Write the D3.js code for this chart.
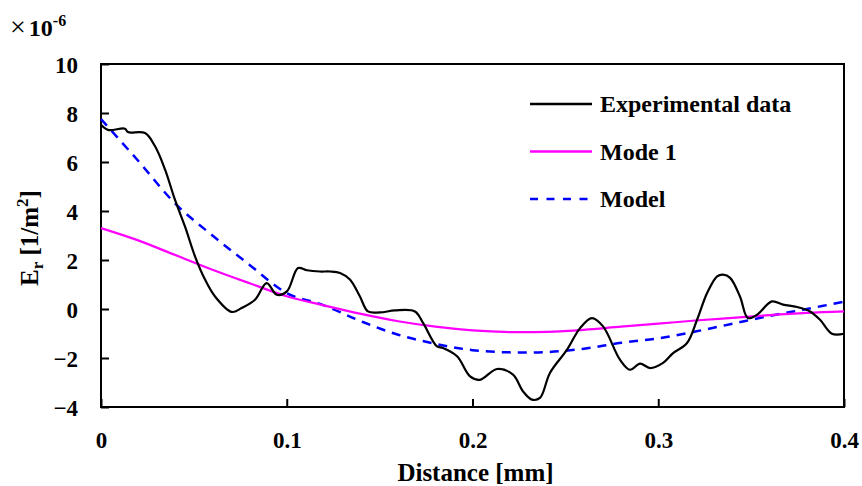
<!DOCTYPE html>
<html>
<head>
<meta charset="utf-8">
<script src="https://cdn.jsdelivr.net/npm/d3@7"></script>
<style>
  body { margin: 0; background: #fff; }
</style>
</head>
<body>
<svg id="chart" width="862" height="486"></svg>
<script>
// distance [mm] and E_r [x1e-6 1/m^2]
var exp_x = [0.000,0.0038,0.0129,0.0145,0.0237,0.0291,0.0345,0.0398,0.0452,0.0506,0.0560,0.0614,0.0704,0.0757,0.0829,0.0892,0.0946,0.1001,0.1061,0.1109,0.1179,0.1233,0.1287,0.1340,0.1394,0.1437,0.1502,0.1583,0.1690,0.1734,0.1809,0.1841,0.1917,0.1987,0.2040,0.2132,0.2218,0.2272,0.2320,0.2363,0.2417,0.2509,0.2579,0.2643,0.2703,0.2794,0.2848,0.2902,0.2956,0.3026,0.3080,0.3155,0.3209,0.3263,0.3317,0.3349,0.3387,0.3440,0.3483,0.3532,0.3612,0.3672,0.3747,0.3817,0.3871,0.3935,0.4000];
var exp_y = [7.52,7.31,7.36,7.22,7.18,6.64,5.69,4.46,3.37,2.15,1.20,0.51,-0.12,0.04,0.38,1.06,0.58,0.72,1.67,1.58,1.53,1.53,1.47,1.20,0.51,-0.10,-0.14,-0.06,-0.10,-0.57,-1.53,-1.59,-1.93,-2.75,-2.89,-2.45,-2.68,-3.36,-3.70,-3.63,-2.61,-1.66,-0.78,-0.37,-0.71,-2.07,-2.48,-2.23,-2.41,-2.20,-1.80,-1.39,-0.44,0.65,1.33,1.40,1.27,0.51,-0.37,-0.23,0.31,0.18,0.08,-0.10,-0.44,-1.01,-1.01];

var fit_x = [0,0.02,0.04,0.06,0.08,0.10,0.12,0.14,0.16,0.18,0.20,0.22,0.24,0.26,0.28,0.30,0.32,0.34,0.36,0.38,0.40];
var mode1_y = [3.30,2.80,2.20,1.60,1.05,0.52,0.15,-0.20,-0.50,-0.72,-0.87,-0.94,-0.93,-0.85,-0.72,-0.60,-0.47,-0.36,-0.25,-0.16,-0.10];
var model_y = [7.75,6.05,4.30,3.00,1.80,0.65,0.15,-0.50,-1.05,-1.42,-1.68,-1.77,-1.76,-1.62,-1.38,-1.20,-0.92,-0.60,-0.28,0.00,0.30];

var x_ticks = [0,0.1,0.2,0.3,0.4];
var y_ticks = [-4,-2,0,2,4,6,8,10];
var legend_names = ["Experimental data","Mode 1","Model"];

var FONT = "Liberation Serif";

var margin = {top: 64, right: 18, bottom: 79, left: 101},
    width = 862 - margin.left - margin.right,
    height = 486 - margin.top - margin.bottom;

var svg = d3.select("#chart");
var g = svg.append("g").attr("transform", "translate(" + margin.left + "," + margin.top + ")");

var x = d3.scaleLinear().domain([0, 0.4]).range([0, width]);
var y = d3.scaleLinear().domain([-4, 10]).range([height, 0]);

// axes, ticks point inward
var xAxis = g.append("g")
    .attr("transform", "translate(0," + height + ")")
    .call(d3.axisBottom(x).tickValues(x_ticks).tickSize(-8)
        .tickFormat(function(d){ return d === 0 ? "0" : d3.format(".1f")(d); }));
var yAxis = g.append("g")
    .call(d3.axisLeft(y).tickValues(y_ticks).tickSize(-8).tickFormat(d3.format("d")));

[xAxis, yAxis].forEach(function(a){
  a.attr("font-family", null).attr("font-size", null);
  a.select(".domain").remove();
  a.selectAll("line").attr("stroke", "#000").attr("stroke-width", 2);
  a.selectAll("text")
      .attr("font-family", FONT).attr("font-size", 23)
      .attr("font-weight", "bold").attr("fill", "#000");
});
xAxis.selectAll("text").attr("y", 41).attr("dy", null);
yAxis.selectAll("text").attr("x", -23).attr("dy", "0.35em");

// frame
g.append("rect")
    .attr("width", width).attr("height", height)
    .attr("fill", "none").attr("stroke", "#000").attr("stroke-width", 2);

// lines
var line = d3.line().x(function(d){ return x(d[0]); }).y(function(d){ return y(d[1]); })
    .curve(d3.curveCatmullRom);

g.append("path")
    .datum(d3.zip(fit_x, model_y))
    .attr("d", line)
    .attr("fill", "none").attr("stroke", "#0000ff").attr("stroke-width", 2.5)
    .attr("stroke-dasharray", "9,7");

g.append("path")
    .datum(d3.zip(fit_x, mode1_y))
    .attr("d", line)
    .attr("fill", "none").attr("stroke", "#ff00ff").attr("stroke-width", 2.2);

g.append("path")
    .datum(d3.zip(exp_x, exp_y))
    .attr("d", line)
    .attr("fill", "none").attr("stroke", "#000").attr("stroke-width", 2.2)
    .attr("stroke-linejoin", "round");

// legend
var leg_style = [
  {stroke: "#000", dash: null},
  {stroke: "#ff00ff", dash: null},
  {stroke: "#0000ff", dash: "8,8.5"}
];
var leg = svg.append("g");
legend_names.forEach(function(name, i){
  var ly = 104 + i * 47.5;
  leg.append("line")
      .attr("x1", 530).attr("x2", 592).attr("y1", ly).attr("y2", ly)
      .attr("stroke", leg_style[i].stroke).attr("stroke-width", 2.5)
      .attr("stroke-dasharray", leg_style[i].dash);
  leg.append("text")
      .attr("x", 600).attr("y", ly + 8)
      .attr("font-family", FONT).attr("font-weight", "bold").attr("font-size", 24)
      .text(name);
});

// axis titles
svg.append("text")
    .attr("x", margin.left + width / 2 + 3).attr("y", 481)
    .attr("text-anchor", "middle")
    .attr("font-family", FONT).attr("font-weight", "bold").attr("font-size", 25)
    .text("Distance [mm]");

var yl = svg.append("text")
    .attr("transform", "translate(38,238) rotate(-90)")
    .attr("text-anchor", "middle")
    .attr("font-family", FONT).attr("font-weight", "bold").attr("font-size", 25);
yl.append("tspan").text("E");
yl.append("tspan").attr("dy", 5).attr("font-size", 17).text("r");
yl.append("tspan").attr("dy", -5).text(" [1/m");
yl.append("tspan").attr("dy", -10).attr("font-size", 17).text("2");
yl.append("tspan").attr("dy", 10).text("]");

// exponent label
var ex = svg.append("text").attr("x", 10).attr("y", 36)
    .attr("font-family", FONT).attr("font-weight", "bold").attr("font-size", 24);
ex.append("tspan").attr("font-weight", "normal").attr("font-size", 28).text("\u00d7");
ex.append("tspan").attr("dx", 3).text("10");
ex.append("tspan").attr("dy", -10).attr("font-size", 16).text("-6");
</script>
</body>
</html>
